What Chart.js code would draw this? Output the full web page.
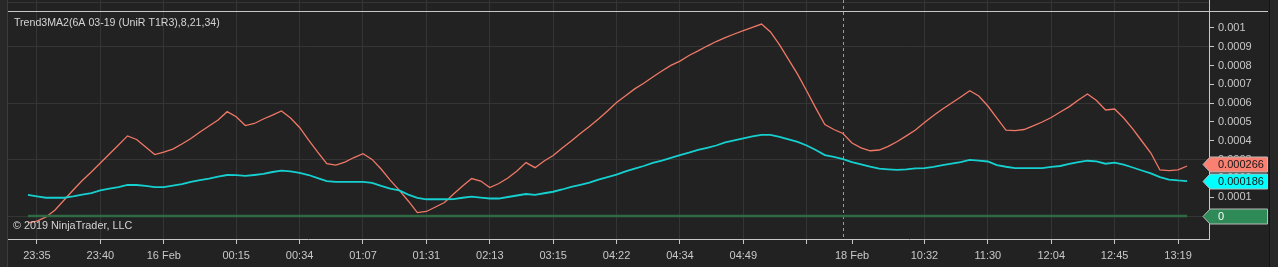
<!DOCTYPE html>
<html>
<head>
<meta charset="utf-8">
<script src="https://cdn.jsdelivr.net/npm/chart.js@4.4.1/dist/chart.umd.min.js"></script>
<style>
    html, body { margin: 0; padding: 0; background: #222222; }
    #wrap { width: 1278px; height: 267px; position: relative; }
</style>
</head>
<body>
<div id="wrap"><canvas id="chart"></canvas></div>
<script>
// bar index of the first value (bars are UniRenko, equally spaced)
const firstBar = -1;

// red plot of Trend3MA2
const trendFast = [
    -0.000037, -0.000027, -0.000005, 0.000032, 0.000085, 0.000138, 0.000189, 0.000234, 0.000282, 0.000330,
    0.000378, 0.000426, 0.000407, 0.000367, 0.000327, 0.000340, 0.000356, 0.000383, 0.000412, 0.000447,
    0.000479, 0.000511, 0.000555, 0.000528, 0.000481, 0.000492, 0.000516, 0.000537, 0.000559, 0.000521,
    0.000471, 0.000404, 0.000340, 0.000279, 0.000271, 0.000287, 0.000311, 0.000331, 0.000301, 0.000250,
    0.000191, 0.000138, 0.000080, 0.000018, 0.000024, 0.000048, 0.000072, 0.000117, 0.000160, 0.000199,
    0.000186, 0.000151, 0.000173, 0.000202, 0.000239, 0.000284, 0.000257, 0.000293, 0.000322, 0.000362,
    0.000399, 0.000439, 0.000476, 0.000516, 0.000559, 0.000604, 0.000640, 0.000676, 0.000706, 0.000739,
    0.000771, 0.000801, 0.000824, 0.000854, 0.000878, 0.000904, 0.000928, 0.000949, 0.000968, 0.000986,
    0.001003, 0.001021, 0.000979, 0.000910, 0.000832, 0.000753, 0.000665, 0.000574, 0.000487, 0.000460,
    0.000439, 0.000388, 0.000362, 0.000347, 0.000351, 0.000370, 0.000396, 0.000426, 0.000457, 0.000497,
    0.000535, 0.000569, 0.000601, 0.000633, 0.000666, 0.000638, 0.000585, 0.000521, 0.000457, 0.000454,
    0.000460, 0.000479, 0.000500, 0.000524, 0.000553, 0.000582, 0.000617, 0.000649, 0.000614, 0.000564,
    0.000569, 0.000521, 0.000463, 0.000399, 0.000335, 0.000245, 0.000241, 0.000245, 0.000266
];

// cyan plot of Trend3MA2
const trendSlow = [
    0.000112, 0.000104, 0.000097, 0.000097, 0.000097, 0.000104, 0.000114, 0.000122, 0.000136, 0.000146,
    0.000154, 0.000166, 0.000165, 0.000160, 0.000154, 0.000154, 0.000162, 0.000170, 0.000181, 0.000191,
    0.000199, 0.000210, 0.000218, 0.000217, 0.000213, 0.000218, 0.000224, 0.000234, 0.000241, 0.000237,
    0.000230, 0.000218, 0.000202, 0.000186, 0.000182, 0.000182, 0.000182, 0.000182, 0.000176, 0.000160,
    0.000146, 0.000136, 0.000114, 0.000096, 0.000089, 0.000089, 0.000089, 0.000090, 0.000097, 0.000103,
    0.000098, 0.000093, 0.000093, 0.000101, 0.000109, 0.000117, 0.000112, 0.000121, 0.000129, 0.000141,
    0.000155, 0.000166, 0.000178, 0.000194, 0.000207, 0.000220, 0.000237, 0.000252, 0.000266, 0.000282,
    0.000294, 0.000309, 0.000324, 0.000337, 0.000352, 0.000363, 0.000375, 0.000391, 0.000402, 0.000413,
    0.000423, 0.000431, 0.000431, 0.000421, 0.000407, 0.000394, 0.000375, 0.000351, 0.000324, 0.000314,
    0.000303, 0.000287, 0.000274, 0.000262, 0.000252, 0.000248, 0.000245, 0.000248, 0.000253, 0.000255,
    0.000261, 0.000270, 0.000278, 0.000287, 0.000298, 0.000294, 0.000290, 0.000271, 0.000262, 0.000255,
    0.000255, 0.000255, 0.000255, 0.000261, 0.000266, 0.000277, 0.000286, 0.000294, 0.000291, 0.000278,
    0.000284, 0.000273, 0.000258, 0.000242, 0.000227, 0.000207, 0.000194, 0.000189, 0.000186
];

const zeroLevel = 0;

// x axis labels sit on bar indices
const tickBars = [0, 7, 14, 22, 29, 36, 43, 50, 57, 64, 71, 78, 85, 90, 98, 105, 112, 119, 126];
const tickLabels = ["23:35", "23:40", "16 Feb", "00:15", "00:34", "01:07", "01:31", "02:13", "03:15", "04:22",
    "04:34", "04:49", "", "18 Feb", "10:32", "11:30", "12:04", "12:45", "13:19"];
const dateBars = [90];
const sessionBreakBar = 89;

const yTicks = [0, 0.0001, 0.0002, 0.0003, 0.0004, 0.0005, 0.0006, 0.0007, 0.0008, 0.0009, 0.001];

const titleText = "Trend3MA2(6A 03-19 (UniR T1R3),8,21,34)";
const copyText = "© 2019 NinjaTrader, LLC";

const FONT = '"Liberation Sans", Arial, sans-serif';
const AXIS_GRAY = "#c8c8c8";
const GRID = "#353535";

function toPoints(values) {
    return values.map((v, i) => ({ x: firstBar + i, y: v }));
}

function noPadding(s) {
    s.paddingTop = 0;
    s.paddingBottom = 0;
    s.paddingLeft = 0;
    s.paddingRight = 0;
}

const chrome = {
    id: "chrome",
    beforeDraw(chart) {
        const ctx = chart.ctx;
        ctx.save();
        ctx.fillStyle = "#222222";
        ctx.fillRect(0, 0, chart.width, chart.height);
        ctx.restore();
    },
    beforeDatasetsDraw(chart) {
        const ctx = chart.ctx;
        const xs = chart.scales.x;
        const area = chart.chartArea;
        ctx.save();
        // grid line of the panel above
        ctx.fillStyle = GRID;
        ctx.fillRect(area.left, 2, area.right - area.left, 1);
        // dashed session break
        const px = Math.round(xs.getPixelForValue(sessionBreakBar)) + 0.5;
        ctx.strokeStyle = "#9a9a9a";
        ctx.lineWidth = 1;
        ctx.setLineDash([3, 3]);
        ctx.beginPath();
        ctx.moveTo(px, area.top);
        ctx.lineTo(px, area.bottom);
        ctx.stroke();
        ctx.restore();
    },
    afterDraw(chart) {
        const ctx = chart.ctx;
        const area = chart.chartArea;
        const ys = chart.scales.y;
        ctx.save();

        // panel edges
        ctx.fillStyle = "#282828";
        ctx.fillRect(0, 0, area.left, chart.height);
        ctx.fillRect(1269, 0, chart.width - 1269, chart.height);
        ctx.fillStyle = "#3c3c3c";
        ctx.fillRect(area.left - 1, 0, 1, chart.height);
        ctx.fillStyle = "#141414";
        ctx.fillRect(1269, 0, 1, chart.height);

        // top border of the panel
        ctx.strokeStyle = AXIS_GRAY;
        ctx.lineWidth = 1;
        ctx.beginPath();
        ctx.moveTo(area.left, 11.5);
        ctx.lineTo(1268, 11.5);
        ctx.stroke();

        // texts
        ctx.font = "10.6px " + FONT;
        ctx.fillStyle = "#d4d4d4";
        ctx.textBaseline = "middle";
        ctx.textAlign = "left";
        ctx.fillText(titleText, 14, 23);
        ctx.font = "10.8px " + FONT;
        ctx.fillText(copyText, 13, 226);

        // value markers on the price axis
        const boxes = [
            { v: trendFast[trendFast.length - 1], fill: "#fa8072", text: "#161616" },
            { v: trendSlow[trendSlow.length - 1], fill: "#00ffff", text: "#161616" },
            { v: zeroLevel, fill: "#2e8b57", text: "#ffffff" }
        ].map(b => ({ ...b, y: ys.getPixelForValue(b.v) }));
        boxes.sort((a, b) => a.y - b.y);
        for (let i = boxes.length - 2; i >= 0; i--) {
            if (boxes[i].y > boxes[i + 1].y - 17) boxes[i].y = boxes[i + 1].y - 17;
        }
        boxes.forEach(b => {
            const y = Math.round(b.y);
            ctx.beginPath();
            ctx.moveTo(1203, y + 0.5);
            ctx.lineTo(1210, y - 7);
            ctx.lineTo(1267.5, y - 7);
            ctx.lineTo(1267.5, y + 8);
            ctx.lineTo(1210, y + 8);
            ctx.closePath();
            ctx.fillStyle = b.fill;
            ctx.fill();
            ctx.strokeStyle = "#b8b8b8";
            ctx.lineWidth = 1;
            ctx.stroke();
            ctx.fillStyle = b.text;
            ctx.font = "11px " + FONT;
            ctx.textBaseline = "middle";
            ctx.fillText(b.v === 0 ? "0" : b.v.toFixed(6), 1218, y + 1);
        });
        ctx.restore();
    }
};

new Chart("chart", {
    type: "line",
    data: {
        datasets: [
            {
                data: toPoints(trendSlow.map(() => zeroLevel)),
                borderColor: "#2f6a45",
                borderWidth: 2.5,
                pointRadius: 0,
                tension: 0,
            },
            {
                data: toPoints(trendSlow),
                borderColor: "#16d0d0",
                borderWidth: 1.8,
                pointRadius: 0,
                tension: 0,
            },
            {
                data: toPoints(trendFast),
                borderColor: "#f07866",
                borderWidth: 1.3,
                pointRadius: 0,
                tension: 0,
            },
        ],
    },
    options: {
        responsive: true,
        maintainAspectRatio: false,
        animation: false,
        layout: { padding: { left: 8, top: 0, right: 0, bottom: 0 } },
        plugins: { legend: { display: false }, tooltip: { enabled: false } },
        scales: {
            x: {
                type: "linear",
                min: -3.2,
                max: 129.42,
                afterBuildTicks: (s) => { s.ticks = tickBars.map(v => ({ value: v })); },
                afterFit: (s) => { s.height = 28; noPadding(s); },
                grid: {
                    color: (c) => (c.tick && dateBars.includes(c.tick.value)) ? "rgba(0,0,0,0)" : GRID,
                    tickColor: AXIS_GRAY,
                    tickLength: 5,
                    lineWidth: 1,
                },
                border: { color: AXIS_GRAY, width: 1 },
                ticks: {
                    autoSkip: false,
                    maxRotation: 0,
                    padding: 5,
                    color: AXIS_GRAY,
                    font: { family: FONT, size: 11 },
                    callback: (v) => tickLabels[tickBars.indexOf(v)],
                },
            },
            y: {
                position: "right",
                min: -(239 - 216) / 188000,
                max: 216 / 188000,
                afterBuildTicks: (s) => { s.ticks = yTicks.map(v => ({ value: v })); },
                afterFit: (s) => { s.width = 69; noPadding(s); },
                grid: {
                    color: (c) => (c.tick && Math.round(c.tick.value * 1e4) % 3 === 0) ? GRID : "rgba(0,0,0,0)",
                    tickColor: AXIS_GRAY,
                    tickLength: 5,
                    lineWidth: 1,
                },
                border: { color: AXIS_GRAY, width: 1 },
                ticks: {
                    padding: 4,
                    color: AXIS_GRAY,
                    font: { family: FONT, size: 11 },
                    callback: (v) => String(parseFloat(Number(v).toFixed(4))),
                },
            },
        },
    },
    plugins: [chrome],
});
</script>
</body>
</html>
